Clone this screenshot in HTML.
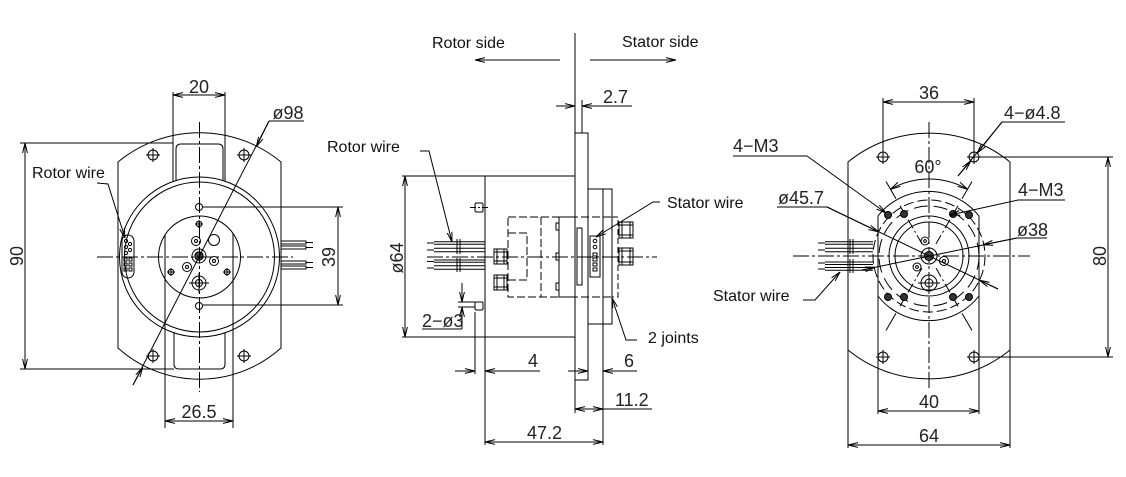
<!DOCTYPE html>
<html><head><meta charset="utf-8"><style>
html,body{margin:0;padding:0;background:#fff;}
svg{display:block;}
.t{font-family:"Liberation Sans",sans-serif;font-size:16px;fill:#111;}
.d{font-family:"Liberation Sans",sans-serif;font-size:18px;fill:#222;}
</style></head><body>
<svg width="1126" height="477" viewBox="0 0 1126 477" xmlns="http://www.w3.org/2000/svg">
<defs>
<marker id="ar" viewBox="0 0 10 6" refX="10" refY="3" markerWidth="10" markerHeight="6" markerUnits="userSpaceOnUse" orient="auto-start-reverse"><path d="M0,0.6 L10,3 L0,5.4" fill="none" stroke="#000" stroke-width="1"/></marker>
</defs>
<rect width="1126" height="477" fill="#fff"/>

<!-- ================= LEFT VIEW ================= -->
<g stroke="#000" stroke-width="1" fill="none">
<path d="M118,162 A128,128 0 0 1 281,162 L281,348 A122,122 0 0 1 118,348 Z"/>
<circle cx="199.5" cy="257" r="80"/>
<circle cx="199.5" cy="257" r="75"/>
<circle cx="199.5" cy="257" r="41"/>
<!-- top notch -->
<line x1="173" y1="92" x2="173" y2="181"/>
<line x1="225" y1="92" x2="225" y2="181"/>
<path d="M176,181 L176,149 Q176,144 181,144 L218,144 Q223,144 223,149 L223,181"/>
<!-- bottom notch -->
<path d="M174,333 L174,364 Q174,369 179,369 L220,369 Q225,369 225,364 L225,333"/>
<line x1="165" y1="235" x2="165" y2="428"/>
<line x1="233" y1="233" x2="233" y2="428"/>
<!-- holes -->
<circle cx="153" cy="155" r="5"/><path d="M146,155H160M153,148V162"/>
<circle cx="244" cy="155" r="5"/><path d="M237,155H251M244,148V162"/>
<circle cx="153" cy="356" r="5"/><path d="M146,356H160M153,349V363"/>
<circle cx="244" cy="356" r="5"/><path d="M237,356H251M244,349V363"/>
<circle cx="199" cy="207" r="3.5"/>
<circle cx="199" cy="306" r="3.5"/>
<!-- hub features -->
<circle cx="199" cy="224" r="2.8"/><path d="M195,224H203M199,220V228"/>
<circle cx="171" cy="272" r="2.8"/><path d="M167,272H175M171,268V276"/>
<circle cx="227" cy="272" r="2.8"/><path d="M223,272H231M227,268V276"/>
<circle cx="196" cy="241" r="4.5"/><circle cx="196" cy="241" r="1.5"/>
<circle cx="214" cy="240" r="5.5"/>
<circle cx="214" cy="261" r="4.5"/><circle cx="214" cy="261" r="1.5"/>
<circle cx="187" cy="267" r="4.5"/><circle cx="187" cy="267" r="1.5"/>
<circle cx="199" cy="256" r="7"/><circle cx="199" cy="256" r="4.2" fill="#444"/>
<circle cx="199" cy="283" r="7"/><circle cx="199" cy="283" r="3.5"/><path d="M189,283H209M199,273V293"/>
<!-- connector -->
<rect x="122" y="235" width="12" height="43" rx="6"/>
<circle cx="126" cy="241" r="1.6"/><circle cx="130" cy="244" r="1.6"/><circle cx="126" cy="247" r="1.6"/><circle cx="130" cy="250" r="1.6"/><circle cx="126" cy="253" r="1.6"/>
<rect x="124" y="258" width="3" height="3"/><rect x="129" y="258" width="3" height="3"/>
<rect x="124" y="263" width="3" height="3"/><rect x="129" y="263" width="3" height="3"/>
<rect x="124" y="268" width="3" height="3"/><rect x="129" y="268" width="3" height="3"/>
<!-- wires right -->
<rect x="281" y="241" width="25" height="3"/><rect x="281" y="246" width="25" height="3"/>
<rect x="281" y="261" width="25" height="3"/><rect x="281" y="266" width="25" height="3"/>
<path d="M306,242.5H313M306,247.5H313M306,262.5H313M306,267.5H313"/>
<!-- centerlines -->
<line x1="199.5" y1="122" x2="199.5" y2="392" stroke-dasharray="16 3 3 3"/>
<line x1="97" y1="257" x2="293" y2="257" stroke-dasharray="16 3 3 3"/>
<!-- dim 20 -->
<line x1="173" y1="95" x2="225" y2="95" marker-start="url(#ar)" marker-end="url(#ar)"/>
<!-- dim phi98 -->
<line x1="269" y1="121" x2="133" y2="385"/>
<line x1="269" y1="121" x2="256.3" y2="146.8" marker-end="url(#ar)"/>
<line x1="133" y1="385" x2="142.7" y2="367.2" marker-end="url(#ar)"/>
<line x1="269" y1="121" x2="304" y2="121"/>
<!-- dim 90 -->
<line x1="20" y1="143" x2="173" y2="143"/>
<line x1="20" y1="369" x2="174" y2="369"/>
<line x1="25" y1="143" x2="25" y2="369" marker-start="url(#ar)" marker-end="url(#ar)"/>
<!-- dim 39 -->
<line x1="203" y1="207" x2="343" y2="207"/>
<line x1="203" y1="305" x2="343" y2="305"/>
<line x1="338" y1="207" x2="338" y2="305" marker-start="url(#ar)" marker-end="url(#ar)"/>
<!-- dim 26.5 -->
<line x1="165" y1="421" x2="233" y2="421" marker-start="url(#ar)" marker-end="url(#ar)"/>
<!-- rotor wire leader -->
<polyline points="97,183 108,184 125,238" marker-end="url(#ar)"/>
</g>
<text class="d" x="199" y="93" text-anchor="middle">20</text>
<text class="d" x="288" y="119" text-anchor="middle">ø98</text>
<text class="d" transform="translate(23,256) rotate(-90)" text-anchor="middle">90</text>
<text class="d" transform="translate(335,257) rotate(-90)" text-anchor="middle">39</text>
<text class="d" x="199" y="418" text-anchor="middle">26.5</text>
<text class="t" x="32" y="178">Rotor wire</text>

<!-- ================= MIDDLE VIEW ================= -->
<g stroke="#000" stroke-width="1" fill="none">
<line x1="575" y1="33" x2="575" y2="133"/>
<line x1="582" y1="100" x2="582" y2="133"/>
<line x1="556" y1="106" x2="575" y2="106" marker-end="url(#ar)"/>
<line x1="632" y1="106" x2="582" y2="106" marker-end="url(#ar)"/>
<line x1="560" y1="60" x2="475" y2="60" marker-end="url(#ar)"/>
<line x1="590" y1="60" x2="676" y2="60" marker-end="url(#ar)"/>
<!-- flange -->
<rect x="575" y="133" width="13" height="247"/>
<!-- body -->
<rect x="485" y="176" width="90" height="161"/>
<line x1="402" y1="176" x2="485" y2="176"/>
<line x1="402" y1="337" x2="485" y2="337"/>
<line x1="405" y1="176" x2="405" y2="337" marker-start="url(#ar)" marker-end="url(#ar)"/>
<!-- stator block -->
<rect x="588" y="189" width="24" height="135"/>
<line x1="603" y1="189" x2="603" y2="445"/>
<path d="M612,217 H618 V297 H612" stroke-dasharray="6 3"/>
<!-- internal -->
<rect x="508" y="217" width="51" height="80" stroke-dasharray="8 3"/>
<line x1="541" y1="217" x2="541" y2="297" stroke-dasharray="8 3"/>
<path d="M508,233 H527 V280 H508" stroke-dasharray="8 3"/>
<rect x="559" y="217" width="16" height="80"/>
<line x1="559" y1="217" x2="612" y2="217" stroke-dasharray="8 3"/>
<line x1="559" y1="297" x2="612" y2="297" stroke-dasharray="8 3"/>
<rect x="577" y="228" width="5" height="57"/>
<rect x="556" y="223" width="3" height="7"/><rect x="556" y="253" width="3" height="7"/><rect x="556" y="283" width="3" height="7"/>
<!-- stator wire connector -->
<rect x="590" y="236" width="10" height="41" fill="#fff"/>
<circle cx="595" cy="241" r="1.8"/><circle cx="595" cy="247" r="1.8"/>
<rect x="593" y="253" width="4" height="3"/><rect x="593" y="258" width="4" height="3"/><rect x="593" y="263" width="4" height="3"/><rect x="593" y="268" width="4" height="3"/>
<!-- connectors -->
<rect x="494" y="249" width="13" height="15"/><path d="M497,249V264M504,249V264M494,252H507M494,261H507"/>
<rect x="494" y="275" width="13" height="15"/><path d="M497,275V290M504,275V290M494,278H507M494,287H507"/>
<rect x="619" y="222" width="14" height="16"/><path d="M622,222V238M630,222V238M619,225H633M619,235H633"/>
<rect x="619" y="248" width="14" height="17"/><path d="M622,248V265M630,248V265M619,251H633M619,262H633"/>
<!-- pins -->
<rect x="475" y="203" width="8" height="9" rx="1.5"/>
<line x1="470" y1="207.5" x2="490" y2="207.5" stroke-dasharray="6 2 2 2"/>
<rect x="475" y="302" width="8" height="8" rx="1.5"/>
<line x1="458" y1="302" x2="475" y2="302"/>
<line x1="458" y1="307" x2="475" y2="307"/>
<!-- centerline -->
<line x1="427" y1="257" x2="657" y2="257" stroke-dasharray="16 3 3 3"/>
<!-- wires -->
<path d="M434,241.7H485M434,244.3H485M434,248.3H485M434,251.7H485M434,260H485M434,262.3H485M434,265.7H485M434,269.3H485"/>
<path d="M427,243H434M427,250H434M427,261.5H434M427,268H434"/>
<path d="M457,239V254M460,239V254M457,258V272M460,258V272"/>
<!-- rotor wire leader -->
<polyline points="420,151 429,151 452,242" marker-end="url(#ar)"/>
<!-- 2-phi3 -->
<line x1="422" y1="329" x2="462" y2="329"/>
<line x1="462" y1="283" x2="462" y2="302" marker-end="url(#ar)"/>
<line x1="462" y1="329" x2="462" y2="307" marker-end="url(#ar)"/>
<!-- dim 4 -->
<line x1="475" y1="312" x2="475" y2="374"/>
<line x1="485" y1="337" x2="485" y2="445"/>
<line x1="455" y1="371" x2="475" y2="371" marker-end="url(#ar)"/>
<line x1="540" y1="371" x2="485" y2="371" marker-end="url(#ar)"/>
<!-- dim 6 -->
<line x1="568" y1="371" x2="588" y2="371" marker-end="url(#ar)"/>
<line x1="637" y1="371" x2="603" y2="371" marker-end="url(#ar)"/>
<!-- dim 11.2 -->
<line x1="575" y1="380" x2="575" y2="413"/>
<line x1="575" y1="409" x2="603" y2="409" marker-start="url(#ar)" marker-end="url(#ar)"/>
<line x1="603" y1="409" x2="652" y2="409"/>
<!-- dim 47.2 -->
<line x1="485" y1="442" x2="603" y2="442" marker-start="url(#ar)" marker-end="url(#ar)"/>
<!-- leaders -->
<polyline points="660,202 653,202 596,237" marker-end="url(#ar)"/>
<polyline points="637,340 626,340 612,298" marker-end="url(#ar)"/>
</g>
<text class="t" x="432" y="48">Rotor side</text>
<text class="t" x="622" y="47">Stator side</text>
<text class="d" x="603" y="103">2.7</text>
<text class="d" transform="translate(403,258) rotate(-90)" text-anchor="middle">ø64</text>
<text class="t" x="327" y="152">Rotor wire</text>
<text class="t" x="667" y="208">Stator wire</text>
<text class="t" x="648" y="343">2 joints</text>
<text class="d" x="422" y="327">2−ø3</text>
<text class="d" x="533" y="367" text-anchor="middle">4</text>
<text class="d" x="629" y="367" text-anchor="middle">6</text>
<text class="d" x="615" y="406">11.2</text>
<text class="d" x="527" y="439">47.2</text>

<!-- ================= RIGHT VIEW ================= -->
<g stroke="#000" stroke-width="1" fill="none">
<path d="M848,162 A128,128 0 0 1 1010,162 L1010,350 A128,128 0 0 1 848,350 Z"/>
<line x1="929" y1="122" x2="929" y2="390" stroke-dasharray="16 3 3 3"/>
<line x1="793" y1="256" x2="1030" y2="256" stroke-dasharray="16 3 3 3"/>
<!-- holes -->
<circle cx="883" cy="157" r="5"/><path d="M876,157H890M883,150V164"/>
<circle cx="974" cy="157" r="5"/><path d="M967,157H981M974,150V164"/>
<circle cx="883" cy="357" r="5"/><path d="M876,357H890M883,350V364"/>
<circle cx="974" cy="357" r="5"/><path d="M967,357H981M974,350V364"/>
<!-- plate -->
<line x1="878" y1="216" x2="878" y2="414"/>
<line x1="979" y1="216" x2="979" y2="414"/>
<path d="M878,216 A64,64 0 0 1 979,216"/>
<path d="M878,296 A64,64 0 0 0 979,296"/>
<circle cx="929" cy="256" r="56" stroke-dasharray="10 4"/>
<circle cx="929" cy="256" r="50" stroke-dasharray="14 6"/>
<circle cx="929" cy="256" r="40"/>
<circle cx="929" cy="256" r="34"/>
<!-- radial lines -->
<path d="M962,198.8L972,181.5M896,198.8L886,181.5M962,313.2L972,330.5M896,313.2L886,330.5"/>
<path d="M936,243.9L958,205.8M922,243.9L900,205.8M936,268.1L958,306.2M922,268.1L900,306.2" stroke-dasharray="10 3 2 3"/>
<!-- 60 deg arc -->
<path d="M890.5,189.3 A77,77 0 0 1 967.5,189.3" marker-start="url(#ar)" marker-end="url(#ar)"/>
<!-- bolt holes -->
<g fill="#333">
<circle cx="888" cy="215" r="3.5"/><circle cx="904" cy="214" r="3.5"/><circle cx="953" cy="214" r="3.5"/><circle cx="969" cy="215" r="3.5"/>
<circle cx="888" cy="297" r="3.5"/><circle cx="904" cy="297" r="3.5"/><circle cx="953" cy="297" r="3.5"/><circle cx="969" cy="297" r="3.5"/>
</g>
<!-- center features -->
<circle cx="929" cy="256" r="8"/><circle cx="929" cy="256" r="4.5" fill="#444"/>
<circle cx="929" cy="283" r="8"/><circle cx="929" cy="283" r="4"/><path d="M918,283H940M929,272V294"/>
<circle cx="925" cy="241" r="4"/><circle cx="925" cy="241" r="1.4"/>
<circle cx="917" cy="267" r="4"/><circle cx="917" cy="267" r="1.4"/>
<circle cx="944" cy="261" r="4.5"/><circle cx="944" cy="261" r="1.5"/>
<!-- wires -->
<path d="M825,241.7H873M825,244.3H873M825,248.3H873M825,251.7H873M825,262H873M825,264.5H873M825,267.5H873M825,270.3H873"/>
<path d="M818,243H825M818,250H825M818,263H825M818,269H825"/>
<path d="M850,239V254M853,239V254M850,259V273M853,259V273"/>
<!-- dim 36 -->
<line x1="883" y1="98" x2="883" y2="151"/>
<line x1="974" y1="98" x2="974" y2="151"/>
<line x1="883" y1="102" x2="974" y2="102" marker-start="url(#ar)" marker-end="url(#ar)"/>
<!-- dim 80 -->
<line x1="980" y1="157" x2="1113" y2="157"/>
<line x1="980" y1="357" x2="1113" y2="357"/>
<line x1="1108" y1="157" x2="1108" y2="357" marker-start="url(#ar)" marker-end="url(#ar)"/>
<!-- dim 40 -->
<line x1="878" y1="411" x2="979" y2="411" marker-start="url(#ar)" marker-end="url(#ar)"/>
<!-- dim 64 -->
<line x1="848" y1="350" x2="848" y2="448"/>
<line x1="1010" y1="350" x2="1010" y2="448"/>
<line x1="848" y1="445" x2="1010" y2="445" marker-start="url(#ar)" marker-end="url(#ar)"/>
<!-- 4-phi4.8 -->
<line x1="1002" y1="122" x2="1065" y2="122"/>
<line x1="1002" y1="122" x2="958" y2="176"/>
<line x1="1002" y1="122" x2="977.2" y2="153.1" marker-end="url(#ar)"/>
<line x1="958" y1="176" x2="970.8" y2="160.9" marker-end="url(#ar)"/>
<!-- 4-M3 left -->
<line x1="733" y1="156" x2="807" y2="156"/>
<line x1="807" y1="156" x2="886" y2="213" marker-end="url(#ar)"/>
<!-- 4-M3 right -->
<line x1="1018" y1="200" x2="1065" y2="200"/>
<line x1="1018" y1="200" x2="950" y2="215" marker-end="url(#ar)"/>
<!-- phi45.7 -->
<line x1="777" y1="207" x2="827" y2="207"/>
<line x1="827" y1="207" x2="998" y2="289"/>
<line x1="827" y1="207" x2="878.5" y2="231.8" marker-end="url(#ar)"/>
<line x1="998" y1="289" x2="979.5" y2="280.2" marker-end="url(#ar)"/>
<!-- phi38 -->
<line x1="1017" y1="238" x2="1047" y2="238"/>
<line x1="1017" y1="238" x2="862" y2="270"/>
<line x1="1017" y1="238" x2="983" y2="244.8" marker-end="url(#ar)"/>
<line x1="862" y1="270" x2="875" y2="267.2" marker-end="url(#ar)"/>
<!-- stator wire leader -->
<polyline points="803,300 815,300 840,272" marker-end="url(#ar)"/>
</g>
<text class="d" x="929" y="99" text-anchor="middle">36</text>
<text class="d" x="1004" y="119">4−ø4.8</text>
<text class="d" x="733" y="152">4−M3</text>
<text class="d" x="928" y="173" text-anchor="middle">60°</text>
<text class="d" x="1018" y="196">4−M3</text>
<text class="d" x="778" y="204">ø45.7</text>
<text class="d" x="1017" y="236">ø38</text>
<text class="t" x="713" y="301">Stator wire</text>
<text class="d" transform="translate(1106,256) rotate(-90)" text-anchor="middle">80</text>
<text class="d" x="929" y="408" text-anchor="middle">40</text>
<text class="d" x="929" y="442" text-anchor="middle">64</text>
</svg>
</body></html>
